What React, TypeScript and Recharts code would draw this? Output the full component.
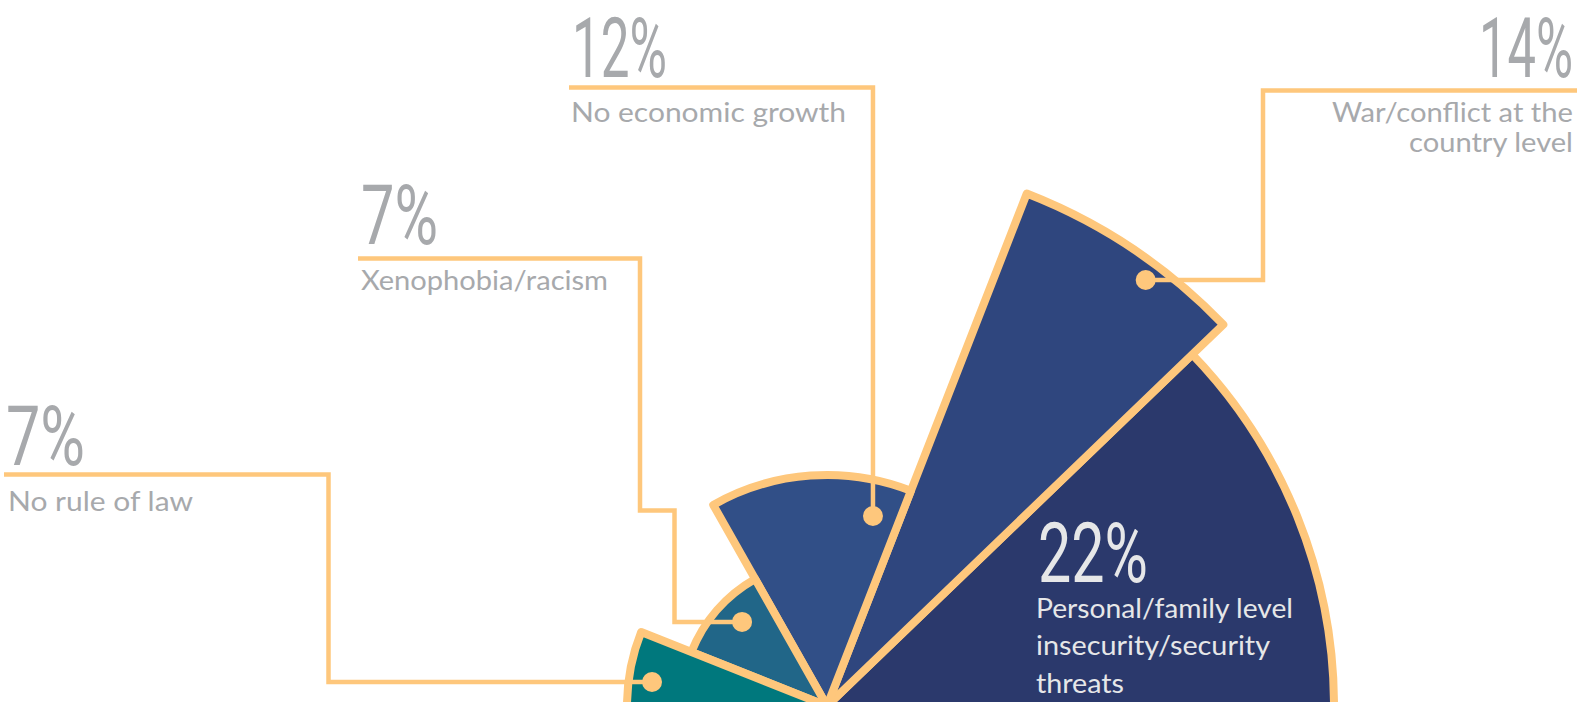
import React from "react";
import { PieChart, Pie, Cell } from "recharts";

// ---- data ----
const categories = [
  "Personal/family level insecurity/security threats",
  "War/conflict at the country level",
  "No economic growth",
  "Xenophobia/racism",
  "No rule of law",
];
const percentages = [22, 14, 12, 7, 7];
const labelLines = [
  ["Personal/family level", "insecurity/security", "threats"],
  ["War/conflict at the", "country level"],
  ["No economic growth"],
  ["Xenophobia/racism"],
  ["No rule of law"],
];

// ---- design geometry of the infographic (angular share in degrees, reach in px) ----
const sweeps = [43.9, 24.8, 50.8, 38.8, 41.7];
const reach = [507, 550, 231, 146, 200];
const colors = ["#2B396C", "#2F467E", "#314F87", "#216688", "#00787D"];

const W = 1577;
const H = 702;
const CX = 827;
const CY = 706;
const ORANGE = "#FEC77C";
const GREY = "#A7A9AC";
const LIGHT = "#E6E7E8";
const NUM_FONT = "Roboto, 'DejaVu Sans Condensed', sans-serif";
const LABEL_FONT = "Lato, 'Open Sans', sans-serif";

const starts: number[] = [];
sweeps.reduce((acc, s) => {
  starts.push(acc);
  return acc + s;
}, 0);

const rows = categories.map((name, i) => ({ name, value: percentages[i] }));

const polar = (r: number, deg: number) => {
  const a = (deg * Math.PI) / 180;
  return { x: CX + r * Math.cos(a), y: CY - r * Math.sin(a) };
};

type Ann = {
  idx: number;
  num: { x: number; y: number; w: number; fill: string };
  lines: { x: number; y: number; w: number }[];
  dot?: { r: number; a: number };
  route?: (d: { x: number; y: number }) => number[][];
  textFill: string;
};

const annotations: Ann[] = [
  {
    idx: 0,
    num: { x: 1038, y: 582, w: 110, fill: LIGHT },
    lines: [
      { x: 1036, y: 618, w: 257 },
      { x: 1036, y: 655, w: 234 },
      { x: 1036, y: 693, w: 88 },
    ],
    textFill: LIGHT,
  },
  {
    idx: 1,
    num: { x: 1479, y: 77, w: 94, fill: GREY },
    lines: [
      { x: 1332, y: 122, w: 241 },
      { x: 1409, y: 152, w: 164 },
    ],
    dot: { r: 532, a: 53.2 },
    route: (d) => [
      [1580, 90.5],
      [1263, 90.5],
      [1263, d.y],
      [d.x, d.y],
    ],
    textFill: GREY,
  },
  {
    idx: 2,
    num: { x: 572, y: 77, w: 95, fill: GREY },
    lines: [{ x: 571, y: 122, w: 275 }],
    dot: { r: 195.5, a: 76.4 },
    route: (d) => [
      [569, 87.5],
      [d.x, 87.5],
      [d.x, d.y],
    ],
    textFill: GREY,
  },
  {
    idx: 3,
    num: { x: 361, y: 244, w: 77, fill: GREY },
    lines: [{ x: 361, y: 290, w: 247 }],
    dot: { r: 119.5, a: 135.3 },
    route: (d) => [
      [358, 258.5],
      [640, 258.5],
      [640, 510.5],
      [674.5, 510.5],
      [674.5, d.y],
      [d.x, d.y],
    ],
    textFill: GREY,
  },
  {
    idx: 4,
    num: { x: 6, y: 465, w: 79, fill: GREY },
    lines: [{ x: 8, y: 511, w: 185 }],
    dot: { r: 176.6, a: 172.2 },
    route: (d) => [
      [4, 474.5],
      [328.5, 474.5],
      [328.5, d.y],
      [d.x, d.y],
    ],
    textFill: GREY,
  },
];

const Annotations = () => (
  <svg
    width={W}
    height={H}
    style={{ position: "absolute", left: 0, top: 0, pointerEvents: "none" }}
  >
    {annotations.map((a) => {
      const d = a.dot ? polar(a.dot.r, a.dot.a) : null;
      const pts = d && a.route ? a.route(d) : null;
      return (
        <g key={categories[a.idx]}>
          {pts && (
            <polyline
              points={pts.map((p) => p.join(",")).join(" ")}
              fill="none"
              stroke={ORANGE}
              strokeWidth={4.5}
              strokeLinejoin="miter"
            />
          )}
          {d && <circle cx={d.x} cy={d.y} r={10} fill={ORANGE} />}
          <text
            x={a.num.x}
            y={a.num.y}
            fill={a.num.fill}
            fontFamily={NUM_FONT}
            fontSize={84}
            fontWeight={400}
            textLength={a.num.w}
            lengthAdjust="spacingAndGlyphs"
          >
            {`${percentages[a.idx]}%`}
          </text>
          {labelLines[a.idx].map((t, j) => (
            <text
              key={t}
              x={a.lines[j].x}
              y={a.lines[j].y}
              fill={a.textFill}
              fontFamily={LABEL_FONT}
              fontSize={26}
              textLength={a.lines[j].w}
              lengthAdjust="spacingAndGlyphs"
            >
              {t}
            </text>
          ))}
        </g>
      );
    })}
  </svg>
);

export default function App() {
  return (
    <div style={{ position: "relative", width: W, height: H, background: "#fff", overflow: "hidden" }}>
      <style>{"body{margin:0;background:#fff}"}</style>
      <PieChart width={W} height={H} margin={{ top: 0, right: 0, bottom: 0, left: 0 }}>
        {rows.map((row, i) => (
          <Pie
            key={row.name}
            data={[row]}
            dataKey="value"
            nameKey="name"
            cx={CX}
            cy={CY}
            startAngle={starts[i]}
            endAngle={starts[i] + sweeps[i]}
            innerRadius={0}
            outerRadius={reach[i]}
            stroke={ORANGE}
            strokeWidth={8}
            isAnimationActive={false}
          >
            <Cell fill={colors[i]} stroke={ORANGE} strokeWidth={8} strokeLinejoin="round" />
          </Pie>
        ))}
      </PieChart>
      <Annotations />
    </div>
  );
}
